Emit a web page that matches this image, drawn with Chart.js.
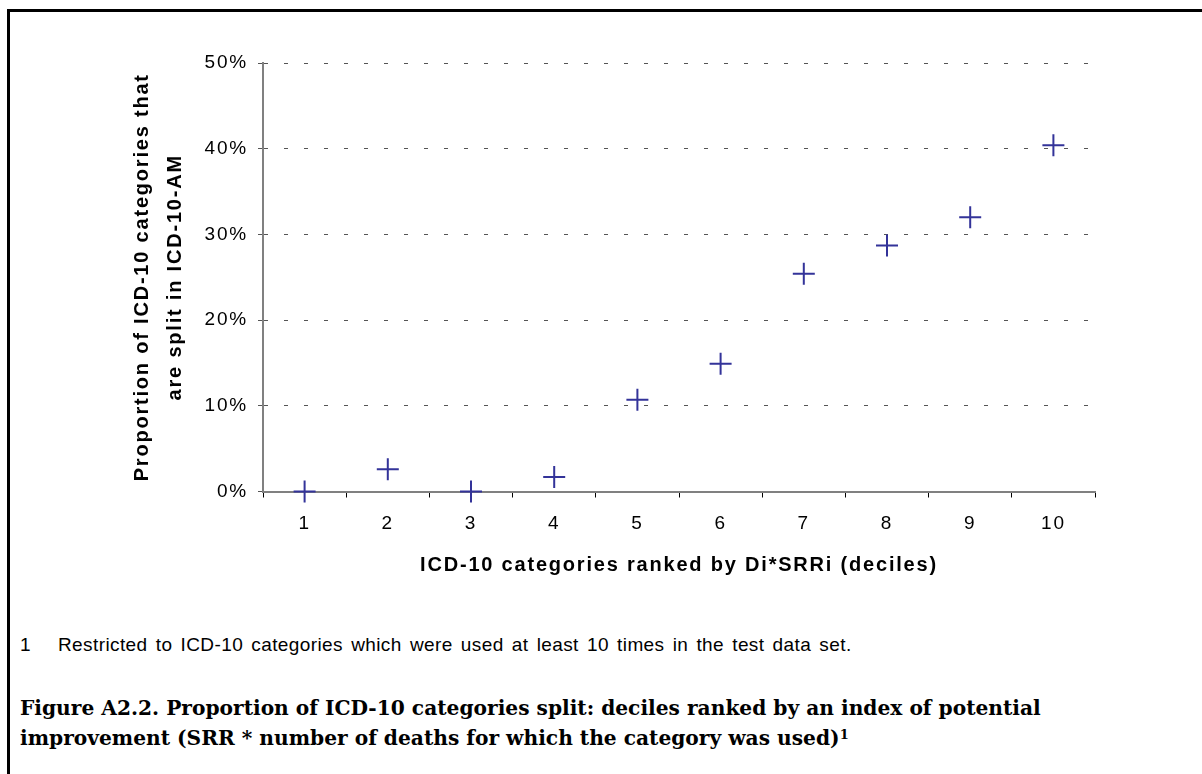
<!DOCTYPE html>
<html>
<head>
<meta charset="utf-8">
<script src="https://cdn.jsdelivr.net/npm/chart.js@4/dist/chart.umd.min.js"></script>
<style>
  body { margin: 0; background: #fff; width: 1202px; height: 774px; overflow: hidden; position: relative; }
  #frame { position: absolute; left: 7px; top: 9px; width: 1400px; height: 1000px; border: 3px solid #000; }
  #wrap { position: absolute; left: 0; top: 0; width: 1202px; height: 600px; }
  .note { position: absolute; top: 634px; font-family: "Liberation Sans", Arial, sans-serif; font-size: 19px; color: #000; white-space: nowrap; }
  #caption { position: absolute; left: 20px; top: 693px; font-family: "Palatino Linotype", "Book Antiqua", Palatino, "DejaVu Serif", serif; font-weight: bold; font-size: 20.2px; line-height: 30px; color: #000; white-space: nowrap; }
  #caption sup { font-size: 13px; vertical-align: 6px; line-height: 0; }
</style>
</head>
<body>
<div id="frame"></div>
<div id="wrap"><canvas id="myChart" width="1202" height="600"></canvas></div>
<div class="note" style="left:20px">1</div>
<div class="note" style="left:58px; letter-spacing:0.4px; word-spacing:2.5px">Restricted to ICD-10 categories which were used at least 10 times in the test data set.</div>
<div id="caption">Figure A2.2. Proportion of ICD-10 categories split: deciles ranked by an index of potential<br>improvement (SRR * number of deaths for which the category was used)<sup>1</sup></div>
<script>
var deciles = ["1", "2", "3", "4", "5", "6", "7", "8", "9", "10"];
var pctSplit = [0, 2.6, 0, 1.7, 10.7, 14.9, 25.4, 28.7, 32.0, 40.4];
var yTicks = [0, 10, 20, 30, 40, 50];

var plusBlue = "#333399";
var arial = "'Liberation Sans', Arial, sans-serif";

// the old Excel text is drawn wide, so space the letters out a bit
var wideText = {
  id: "wideText",
  beforeDraw: function(chart) {
    chart.ctx.letterSpacing = "1.8px";
  }
};

new Chart("myChart", {
  type: "line",
  data: {
    labels: deciles,
    datasets: [{
      data: pctSplit,
      showLine: false,
      clip: false,
      pointStyle: "cross",
      pointRadius: 11,
      pointHoverRadius: 11,
      pointBorderWidth: 2,
      pointHoverBorderWidth: 2,
      pointBorderColor: plusBlue,
      pointBackgroundColor: plusBlue
    }]
  },
  plugins: [wideText],
  options: {
    responsive: false,
    devicePixelRatio: 1,
    animation: false,
    events: [],
    layout: {
      padding: { left: 110, top: 63, right: 107, bottom: 0 }
    },
    plugins: {
      legend: { display: false },
      tooltip: { enabled: false }
    },
    scales: {
      x: {
        offset: true,
        afterFit: function(scale) { scale.height = 108.5; },
        grid: {
          offset: true,
          drawOnChartArea: false,
          drawTicks: true,
          tickLength: 6,
          tickColor: "#000",
          tickWidth: 1
        },
        border: { display: true, color: "#808080", width: 2 },
        ticks: {
          color: "#000",
          padding: 15,
          maxRotation: 0,
          font: { family: arial, size: 19 }
        },
        title: {
          display: true,
          text: "ICD-10 categories ranked by Di*SRRi (deciles)",
          color: "#000",
          padding: { top: 0, bottom: 23 },
          font: { family: arial, size: 20, weight: "bold" }
        }
      },
      y: {
        min: 0,
        max: 50,
        afterFit: function(scale) { scale.width = 153; },
        afterBuildTicks: function(scale) {
          scale.ticks = yTicks.map(function(v) { return { value: v }; });
        },
        grid: {
          color: function(ctx) {
            return ctx.tick && ctx.tick.value === 0 ? "rgba(0,0,0,0)" : "#555";
          },
          lineWidth: 1,
          drawTicks: true,
          tickLength: 5,
          tickColor: "#555",
          tickWidth: 1
        },
        border: { display: true, color: "#808080", width: 2, dash: [4, 16] },
        ticks: {
          color: "#000",
          padding: 10,
          font: { family: arial, size: 19 },
          callback: function(v) { return v + "%"; }
        },
        title: {
          display: true,
          text: ["Proportion of ICD-10 categories that", "are split in ICD-10-AM"],
          color: "#000",
          padding: { top: 16, bottom: 0 },
          font: { family: arial, size: 20, weight: "bold", lineHeight: 1.65 }
        }
      }
    }
  }
});
</script>
</body>
</html>
